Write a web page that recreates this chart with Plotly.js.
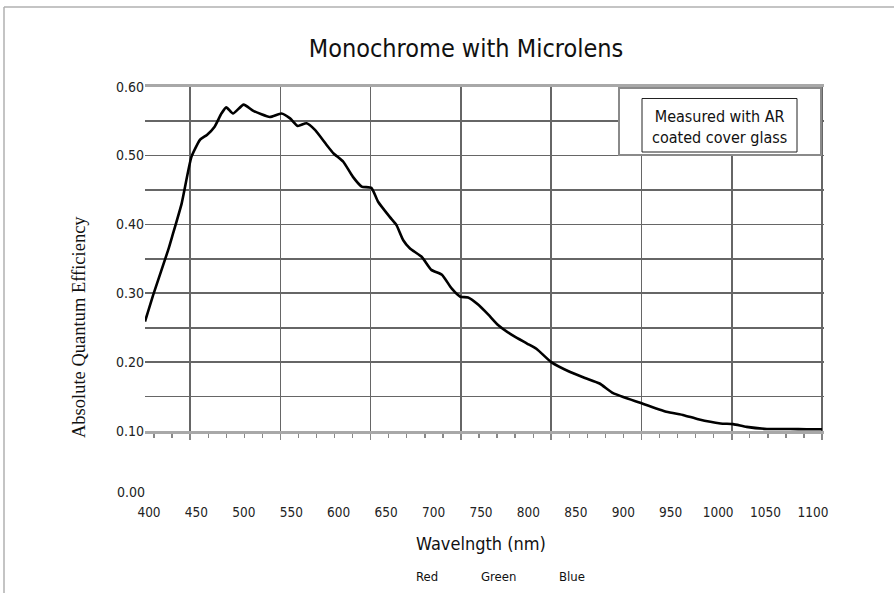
<!DOCTYPE html>
<html>
<head>
<meta charset="utf-8">
<script src="https://cdn.plot.ly/plotly-3.0.1.min.js"></script>
<style>html,body{margin:0;padding:0;background:#fff;}#chart{width:894px;height:593px;}</style>
</head>
<body>
<div id="chart"></div>
<script>
// ---- data ----
const wavelength = [400, 409, 424, 428, 438, 448, 457, 464, 472, 479, 484, 491, 502, 512, 529, 541, 550, 558, 567, 576, 588, 595, 605, 615, 624, 634, 641, 653, 660, 667, 674, 686, 696, 707, 717, 726, 734, 745, 755, 765, 781, 795, 805, 820, 839, 855, 870, 884, 912, 939, 957, 972, 995, 1008, 1022, 1043, 1067, 1084, 1100];
const qe = [0.259, 0.300, 0.363, 0.382, 0.431, 0.498, 0.523, 0.530, 0.542, 0.561, 0.570, 0.561, 0.574, 0.565, 0.556, 0.561, 0.554, 0.543, 0.547, 0.537, 0.515, 0.503, 0.491, 0.469, 0.455, 0.453, 0.433, 0.411, 0.399, 0.377, 0.365, 0.353, 0.334, 0.327, 0.307, 0.295, 0.294, 0.283, 0.269, 0.254, 0.238, 0.227, 0.219, 0.200, 0.186, 0.177, 0.169, 0.155, 0.141, 0.128, 0.123, 0.117, 0.111, 0.110, 0.106, 0.103, 0.103, 0.1025, 0.1025];
const xTickLabels = ['400','450','500','550','600','650','700','750','800','850','900','950','1000','1050','1100'];
const xTickValues = [400,450,500,550,600,650,700,750,800,850,900,950,1000,1050,1100];
const yTickValues = [0.10,0.15,0.20,0.25,0.30,0.35,0.40,0.45,0.50,0.55,0.60];
const yTickLabels = ['0.10','','0.20','','0.30','','0.40','','0.50','','0.60'];
const colorLabels = ['Red','Green','Blue'];
const titleText = 'Monochrome with Microlens';
const xTitle = 'Wavelngth (nm)';
const yTitle = 'Absolute Quantum Efficiency';
const noteText = 'Measured with AR<br>coated cover glass';

// ---- layout helpers (pixel -> paper) ----
const W = 894, H = 593;
const PX = p => p / W;
const PY = p => 1 - p / H;
const SANS = 'DejaVu Sans Condensed, Roboto, sans-serif';
const GRID = '#666';

// frame grid: 7.5 intervals across the frame, lines at half positions
const step = 700 / 7.5;
const majorGrid = [];
for (let k = 0; k < 8; k++) majorGrid.push(400 + (k + 0.5) * step);
majorGrid.push(1100);
const minorTicks = [];
for (let v = 400 + step / 2 - 2 * step / 5; v <= 1100.01; v += step / 5) minorTicks.push(v);

const traces = [
  {
    x: wavelength, y: qe, xaxis: 'x', yaxis: 'y',
    type: 'scatter', mode: 'lines',
    line: {color: '#000', width: 2.6, shape: 'spline', smoothing: 0.5},
    hoverinfo: 'x+y', showlegend: false
  },
  {
    x: [], y: [], xaxis: 'x2', yaxis: 'y2', type: 'scatter', mode: 'lines',
    showlegend: false, hoverinfo: 'skip'
  }
];

const layout = {
  width: W, height: H,
  margin: {l: 0, r: 0, t: 0, b: 0},
  paper_bgcolor: '#fff', plot_bgcolor: 'rgba(0,0,0,0)',
  showlegend: false,
  title: {
    text: titleText, x: PX(466), xanchor: 'center', y: PY(48), yanchor: 'middle',
    font: {family: SANS, size: 25, color: '#111'}
  },
  xaxis: {
    domain: [PX(145), PX(823.5)], range: [400, 1101.5], anchor: 'y',
    tickmode: 'array', tickvals: majorGrid, showticklabels: false,
    ticks: 'outside', ticklen: 6, tickwidth: 1.5, tickcolor: '#888',
    showgrid: true, gridcolor: GRID, gridwidth: 1.6,
    minor: {tickmode: 'array', tickvals: minorTicks, ticks: 'outside', ticklen: 4, tickwidth: 1.3, tickcolor: '#888', showgrid: false},
    showline: true, mirror: true, linecolor: '#a8a8a8', linewidth: 2.5,
    zeroline: false, fixedrange: true
  },
  yaxis: {
    domain: [PY(431), PY(86.7)], range: [0.1, 0.6], anchor: 'x',
    tickmode: 'array', tickvals: yTickValues, ticktext: yTickLabels,
    ticks: '', showgrid: true, gridcolor: GRID, gridwidth: 1.6,
    tickfont: {family: SANS, size: 14, color: '#222'},
    showline: false, zeroline: false, fixedrange: true
  },
  xaxis2: {
    domain: [PX(149), PX(813)], range: [400, 1100], anchor: 'y2',
    tickmode: 'array', tickvals: xTickValues, ticktext: xTickLabels,
    ticks: '', showgrid: false, zeroline: false, showline: false,
    ticklabelstandoff: 10,
    tickfont: {family: SANS, size: 13.5, color: '#222'},
    title: {text: xTitle, standoff: 18, font: {family: SANS, size: 18, color: '#111'}},
    fixedrange: true
  },
  yaxis2: {
    domain: [PY(492), PY(86.7)], range: [0, 0.6], anchor: 'free', position: PX(145),
    tickmode: 'array', tickvals: [0], ticktext: ['0.00'],
    ticks: '', showgrid: false, zeroline: false, showline: false,
    tickfont: {family: SANS, size: 14, color: '#222'},
    fixedrange: true
  },
  shapes: [
    // page frame
    {type: 'line', xref: 'paper', yref: 'paper', x0: PX(4), x1: PX(4), y0: 0, y1: PY(7), line: {color: '#b0b0b0', width: 1.5}},
    {type: 'line', xref: 'paper', yref: 'paper', x0: PX(4), x1: 1, y0: PY(7), y1: PY(7), line: {color: '#b0b0b0', width: 1.5}},
    // note box
    {type: 'rect', xref: 'paper', yref: 'paper', x0: PX(619), x1: PX(821), y0: PY(155), y1: PY(88), fillcolor: '#fff', line: {color: '#8a8a8a', width: 2}},
    {type: 'rect', xref: 'paper', yref: 'paper', x0: PX(642), x1: PX(797), y0: PY(152), y1: PY(98.5), fillcolor: '#fff', line: {color: '#222', width: 1}}
  ],
  annotations: [
    {text: noteText, xref: 'paper', yref: 'paper', x: PX(719.5), y: PY(126.5), xanchor: 'center', yanchor: 'middle', showarrow: false, align: 'center',
     font: {family: SANS, size: 16, color: '#111'}},
    {text: yTitle, xref: 'paper', yref: 'paper', x: PX(79), y: PY(327), xanchor: 'center', yanchor: 'middle', textangle: -90, showarrow: false,
     font: {family: 'Liberation Serif, Times New Roman, serif', size: 18.5, color: '#111'}},
    {text: colorLabels[0], xref: 'paper', yref: 'paper', x: PX(426.7), y: PY(576), xanchor: 'center', yanchor: 'middle', showarrow: false, font: {family: SANS, size: 13, color: '#111'}},
    {text: colorLabels[1], xref: 'paper', yref: 'paper', x: PX(498), y: PY(576), xanchor: 'center', yanchor: 'middle', showarrow: false, font: {family: SANS, size: 13, color: '#111'}},
    {text: colorLabels[2], xref: 'paper', yref: 'paper', x: PX(572), y: PY(576), xanchor: 'center', yanchor: 'middle', showarrow: false, font: {family: SANS, size: 13, color: '#111'}}
  ]
};

Plotly.newPlot('chart', traces, layout, {displayModeBar: false, staticPlot: true});
</script>
</body>
</html>
